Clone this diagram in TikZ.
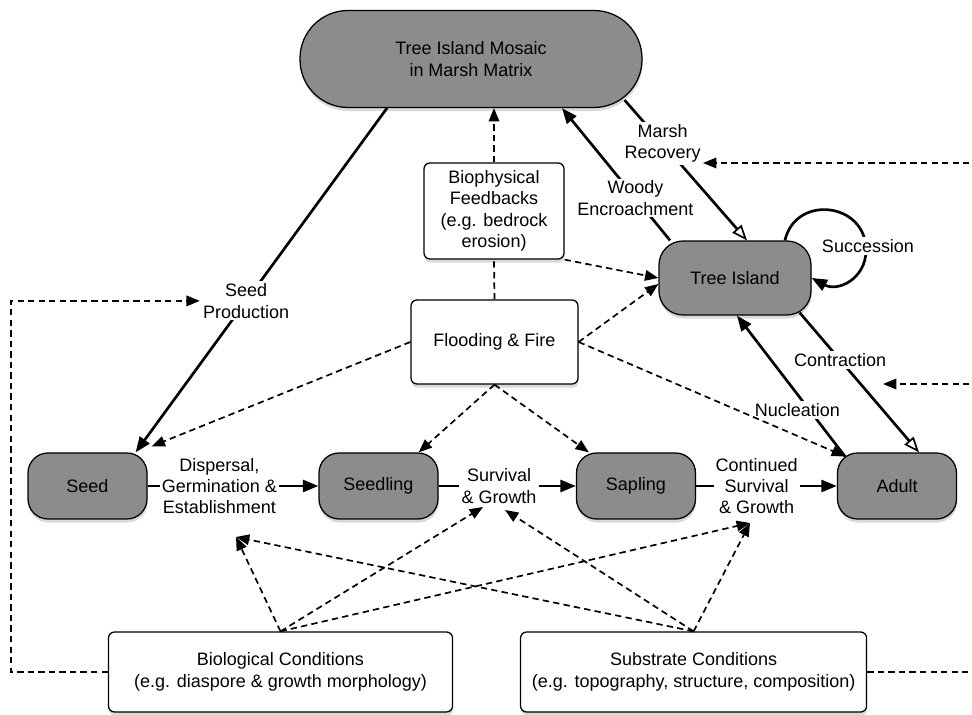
\documentclass[tikz,border=0pt]{standalone}
\usepackage{fontspec}
\setmainfont{Liberation Sans}
\usetikzlibrary{arrows.meta,shadows,positioning}

\definecolor{stagegray}{gray}{0.55}
\tikzset{
  stage/.style={draw, line width=0.9pt, fill=stagegray, rounded corners=0.5cm,
    minimum width=2.975cm, minimum height=1.65cm, align=center,
    drop shadow={shadow xshift=0.4pt, shadow yshift=-2.5pt, opacity=0.3}},
  factor/.style={draw, line width=0.9pt, fill=white, rounded corners=0.15cm, align=center,
    drop shadow={shadow xshift=0.4pt, shadow yshift=-2.5pt, opacity=0.3}},
  lbl/.style={fill=white, align=center, inner sep=1.5pt},
  flow/.style={line width=1.9pt, -{Triangle[length=11pt,width=8.5pt]}},
  flowopen/.style={line width=1.9pt, -{Triangle[open,length=11pt,width=8.5pt,line width=1.2pt]}},
  infline/.style={line width=1.2pt, dash pattern=on 4.5pt off 3pt},
  infl/.style={infline, -{Triangle[length=9.5pt,width=7.5pt]}}
}

\begin{document}
\begin{tikzpicture}[font=\fontsize{12.8}{15.2}\selectfont]
    \useasboundingbox (0,0) rectangle (24.3,17.875);
    \clip (0,0) rectangle (24.3,17.875);

    % Landscape and life stages
    \node[stage, minimum width=8.55cm, minimum height=2.425cm, rounded corners=1.2cm] (mosaic) at (11.775,16.4) {Tree Island Mosaic\\in Marsh Matrix};
    \node[stage, minimum width=3.8cm, minimum height=1.85cm, rounded corners=0.6cm] (ti) at (18.375,10.925) {Tree Island};
    \node[stage] (seed) at (2.1875,5.725) {Seed};
    \node[stage] (seedling) at (9.4625,5.725) {Seedling};
    \node[stage] (sapling) at (15.9,5.725) {Sapling};
    \node[stage] (adult) at (22.425,5.725) {Adult};

    % Drivers
    \node[factor, minimum width=3.5cm, minimum height=2.4cm] (bp) at (12.35,12.6) {Biophysical\\Feedbacks\\(e.g. bedrock\\erosion)};
    \node[factor, minimum width=4.175cm, minimum height=2.1cm] (ff) at (12.3625,9.325) {Flooding \& Fire};
    \node[factor, minimum width=8.6cm, minimum height=2cm] (bio) at (7.0125,1.075) {Biological Conditions\\(e.g. diaspore \& growth morphology)};
    \node[factor, minimum width=8.65cm, minimum height=2cm] (sub) at (17.34,1.075) {Substrate Conditions\\(e.g. topography, structure, composition)};

    \coordinate (dgein) at (5.9,4.45);
    \coordinate (sgin1) at (12.075,5.2);
    \coordinate (sgin2) at (12.625,5.125);
    \coordinate (csgin) at (18.75,4.8);
    \coordinate (mrin) at (17.575,13.8);
    \coordinate (ctin) at (22.075,8.275);
    \coordinate (succR) at (21.65,11.625);
    \coordinate (loopL) at (0.275,5);
    \coordinate (loopR) at (24.5,13.8);
    \coordinate (loopR2) at (24.5,8.275);

    % Stage transitions
    \draw[flow] (seed) -- node[lbl, pos=0.42] {Dispersal,\\Germination \&\\Establishment} (seedling);
    \draw[flow] (seedling) -- node[lbl, pos=0.44] {Survival\\\& Growth} (sapling);
    \draw[flow] (sapling) -- node[lbl, pos=0.43] {Continued\\Survival\\\& Growth} (adult);

    % Landscape transitions
    \draw[flow] ([xshift=-2.1cm]mosaic.south) -- node[lbl, pos=0.56] (seedprod) {Seed\\Production} ([xshift=-0.3cm]seed.north east);
    \draw[flow] ([xshift=-1.625cm]ti.north) -- node[lbl, pos=0.32] {Woody\\Encroachment} ([xshift=2.275cm]mosaic.south);
    \draw[flowopen] ([xshift=-0.45cm,yshift=0.2cm]mosaic.south east) -- node[lbl, pos=0.31] (mr) {Marsh\\Recovery} ([xshift=0.3cm]ti.north);
    \draw[flowopen] ([xshift=-0.3cm,yshift=0.075cm]ti.south east) -- node[lbl, pos=0.34] {Contraction} ([xshift=0.55cm]adult.north);
    \draw[flow] ([xshift=-1.3cm,yshift=-0.1cm]adult.north) -- node[lbl, pos=0.33, xshift=-0.3cm] {Nucleation} ([xshift=0.05cm]ti.south);
    \draw[flow] (ti.37) .. controls +(0.27,1.16) and +(0,1.19) .. (succR)
                        .. controls +(0,-0.73) and +(0.65,-0.35) .. (ti.east);
    \node[lbl] (succ) at (21.7,11.725) {Succession};

    % Dashed influences
    \draw[infl] (bp.north) -- (bp.north |- mosaic.south);
    \draw[infline] (ff.north) -- (bp.south);
    \draw[infl] (bp.south east) -- (ti.west);
    \draw[infl] (ff.east) -- ([yshift=-0.15cm]ti.west);
    \draw[infl] (ff.east) -- ([xshift=-1.3cm,yshift=-0.1cm]adult.north);
    \draw[infl] (ff.west) -- ([xshift=0.1cm,yshift=0.15cm]seed.north east);
    \draw[infl] (ff.south) -- ([xshift=-0.5cm]seedling.north east);
    \draw[infl] (ff.south) -- ([xshift=0.325cm]sapling.north west);

    \foreach \src in {bio,sub}
      \foreach \dst in {dgein,csgin}
        \draw[infl] (\src.north) -- (\dst);
    \draw[infl] (bio.north) -- (sgin1);
    \draw[infl] (sub.north) -- (sgin2);

    % Feedback loops
    \draw[infl] (bio.west) -| (loopL) |- (seedprod.west);
    \draw[infline] (sub.east) -| (loopR);
    \draw[infl] (loopR) -- (mrin);
    \draw[infl] (loopR2) -- (ctin);
\end{tikzpicture}
\end{document}
